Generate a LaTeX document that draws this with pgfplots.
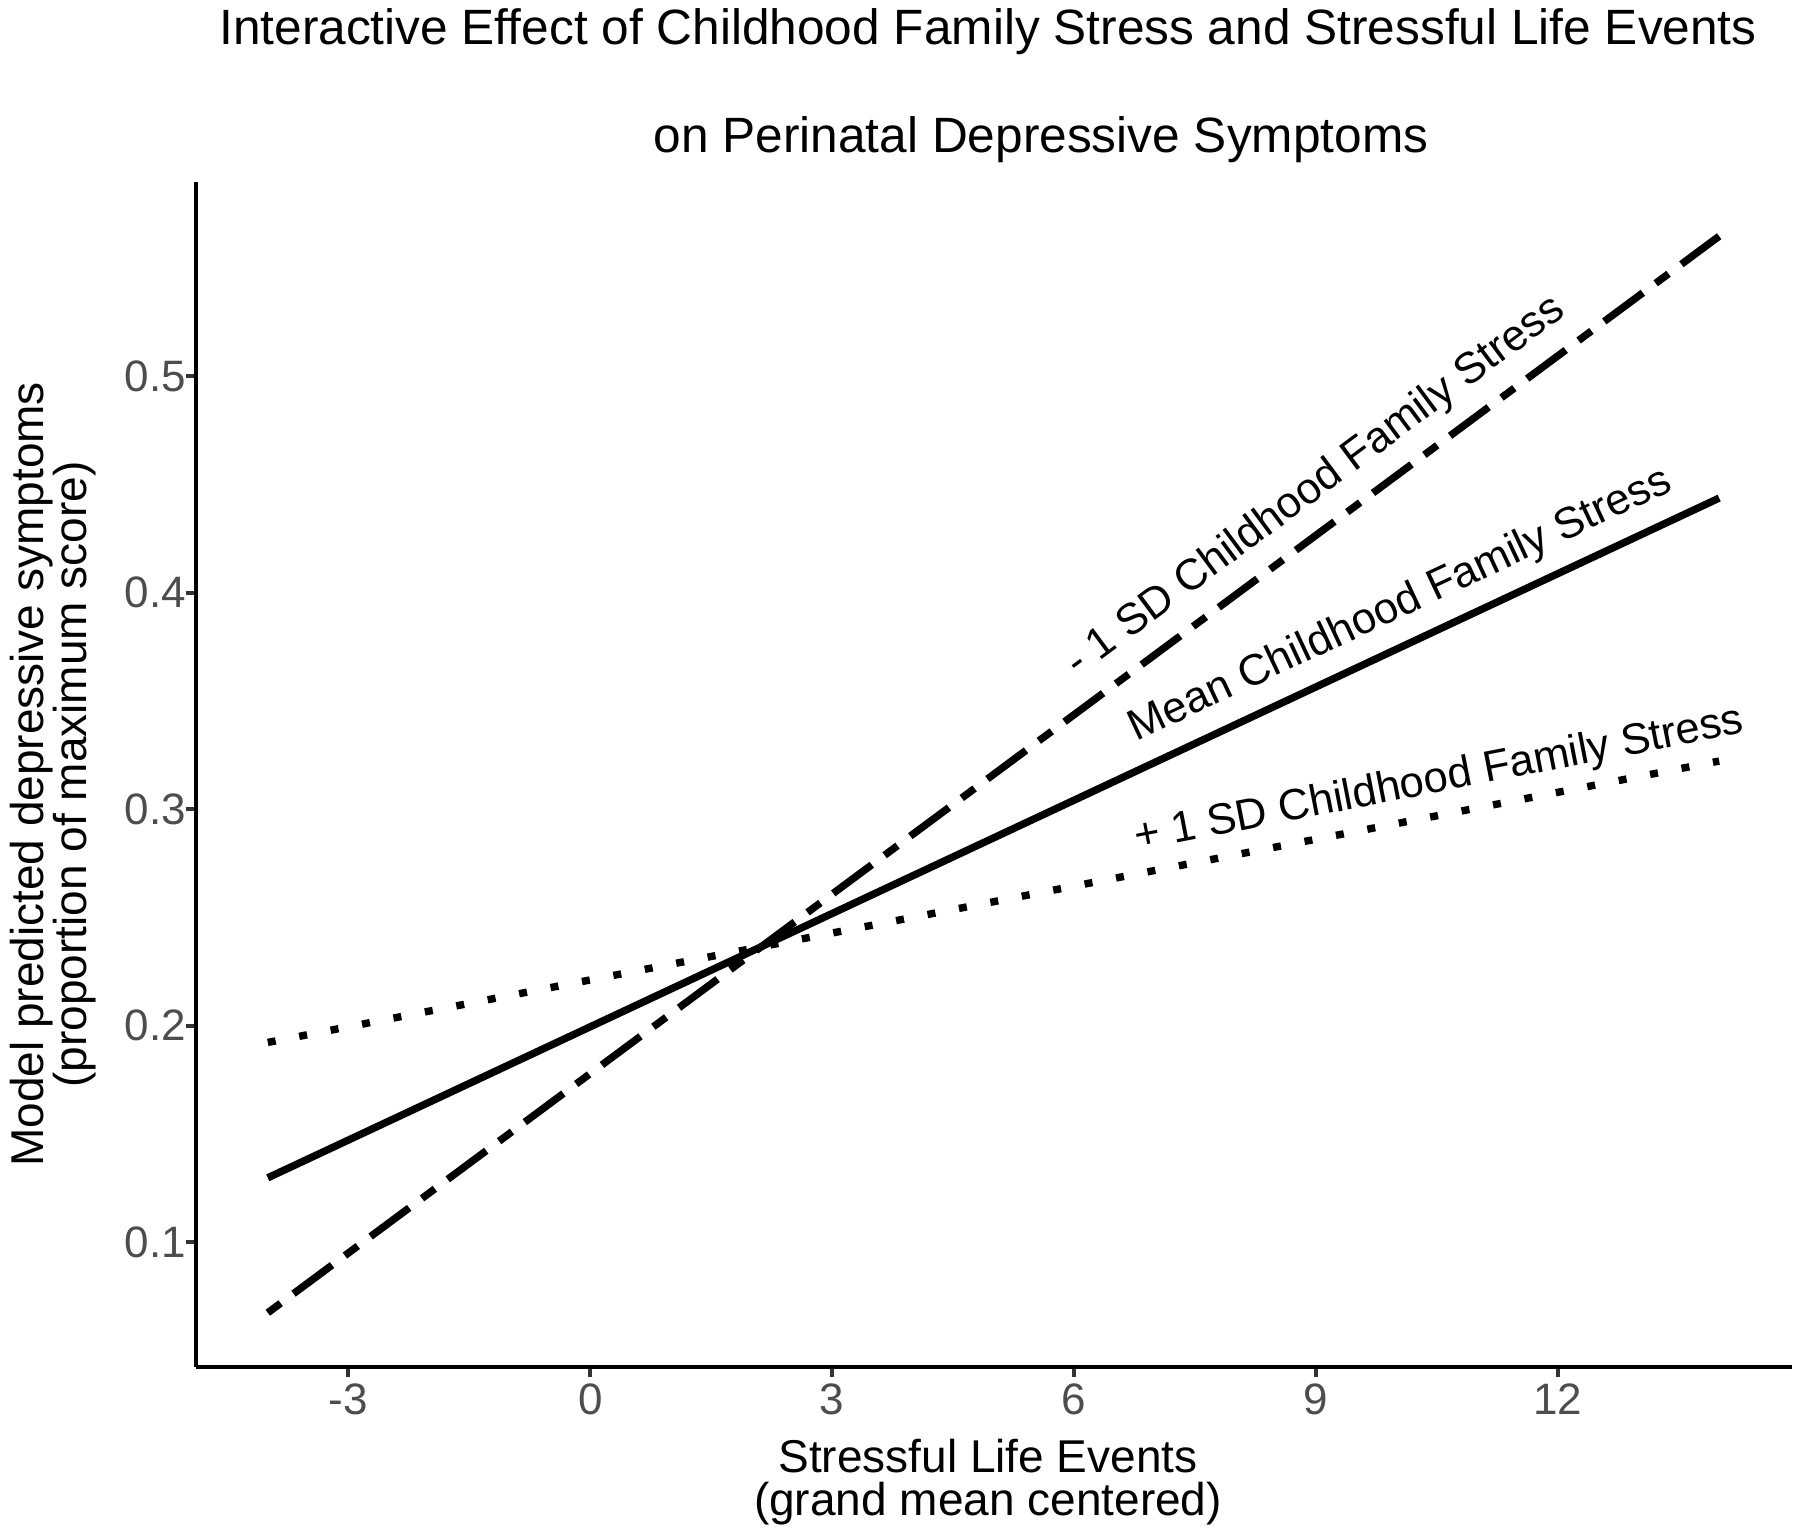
\documentclass[border=0pt]{standalone}
\usepackage{fontspec}
\setmainfont{Liberation Sans}
\usepackage{pgfplots}
\pgfplotsset{compat=1.18}
\definecolor{ticktext}{HTML}{4D4D4D}
\definecolor{tickmark}{HTML}{333333}
\newcommand{\titlefont}{\fontsize{12.4}{14}\selectfont}
\newcommand{\labfont}{\fontsize{11.5}{13}\selectfont}
\newcommand{\tickfont}{\fontsize{11}{12}\selectfont}
\newcommand{\annfont}{\fontsize{10.9}{12}\selectfont}
\begin{document}
\begin{tikzpicture}[x=1pt,y=1pt]
\path[use as bounding box] (0,0) rectangle (450,384);
\begin{axis}[
  at={(48.93pt,42.33pt)}, anchor=south west,
  width=399pt, height=296.1pt, scale only axis,
  xmin=-4.894, xmax=14.9, ymin=0.0426, ymax=0.5894,
  axis x line*=bottom, axis y line*=left,
  axis line style={-, black, line width=1pt},
  xtick={-3,0,3,6,9,12}, xticklabels={-3,0,3,6,9,12},
  ytick={0.1,0.2,0.3,0.4,0.5}, yticklabels={0.1,0.2,0.3,0.4,0.5},
  tick align=outside, major tick length=2.5pt,
  every tick/.style={tickmark, line width=1pt},
  x tick label style={font=\tickfont, text=ticktext, inner sep=0pt, anchor=north, yshift=-1.5pt},
  y tick label style={font=\tickfont, text=ticktext, inner sep=0pt, anchor=east, xshift=0.3pt},
  clip=false,
]
\addplot[black, line width=1.85pt, dash pattern=on 4pt off 4pt on 12pt off 4pt] coordinates {(-4,0.0675) (14,0.5645)};
\addplot[black, line width=1.85pt] coordinates {(-4,0.1298) (14,0.4436)};
\addplot[black, line width=1.85pt, dash pattern=on 2pt off 6pt] coordinates {(-4,0.1923) (14,0.3222)};
\node[rotate=36.6, font=\annfont] at (axis cs:9.0,0.4488) {- 1 SD Childhood Family Stress};
\node[rotate=25.1, font=\annfont] at (axis cs:10.05,0.394) {Mean Childhood Family Stress};
\node[rotate=11.0, font=\annfont] at (axis cs:10.53,0.3132) {+ 1 SD Childhood Family Stress};
\end{axis}
% title
\node[anchor=base, font=\titlefont, inner sep=0pt] at (247,372.9) {Interactive Effect of Childhood Family Stress and Stressful Life Events};
\node[anchor=base, font=\titlefont, inner sep=0pt] at (260.25,345.8) {on Perinatal Depressive Symptoms};
% x label
\node[anchor=base, font=\labfont, inner sep=0pt] at (247,16.0) {Stressful Life Events};
\node[anchor=base, font=\labfont, inner sep=0pt] at (247,5.25) {(grand mean centered)};
% y label
\node[anchor=base, rotate=90, font=\labfont, inner sep=0pt] at (10.8,190.4) {Model predicted depressive symptoms};
\node[anchor=base, rotate=90, font=\labfont, inner sep=0pt] at (21.5,190.4) {(proportion of maximum score)};
\end{tikzpicture}
\end{document}
